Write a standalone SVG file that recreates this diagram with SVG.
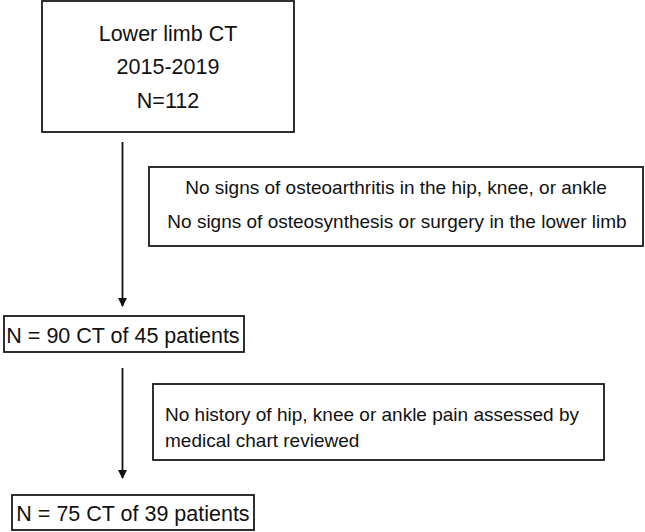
<svg xmlns="http://www.w3.org/2000/svg" width="645" height="532" viewBox="0 0 645 532">
<defs>
<style>
.box{fill:#fff;stroke:#1a1a1a;stroke-width:1.8}
.t{font-family:"Liberation Sans",Arial,sans-serif;fill:#111;text-anchor:middle}
.tl{font-family:"Liberation Sans",Arial,sans-serif;fill:#111;text-anchor:start}
.c{stroke:#111;stroke-width:1.8;fill:none}
</style>
<marker id="ah" markerWidth="10" markerHeight="10" refX="8" refY="4.5" orient="auto" markerUnits="userSpaceOnUse">
<path d="M0,0 L9,4.5 L0,9 z" fill="#111"/>
</marker>
</defs>
<rect width="645" height="532" fill="#fff"/>
<g id="connectors">
<line class="c" x1="122.5" y1="142" x2="122.5" y2="306" marker-end="url(#ah)"/>
<line class="c" x1="122.5" y1="368" x2="122.5" y2="478" marker-end="url(#ah)"/>
</g>
<g id="n1">
<rect class="box" x="42" y="1" width="252" height="131"/>
<text class="t" x="168" y="41" font-size="21.5">Lower limb CT</text>
<text class="t" x="168" y="74" font-size="21.5">2015-2019</text>
<text class="t" x="168" y="108" font-size="21.5">N=112</text>
</g>
<g id="n2">
<rect class="box" x="149" y="167" width="494" height="79"/>
<text class="t" x="396" y="194" font-size="19">No signs of osteoarthritis in the hip, knee, or ankle</text>
<text class="t" x="397" y="228" font-size="19">No signs of osteosynthesis or surgery in the lower limb</text>
</g>
<g id="n3">
<rect class="box" x="4" y="316" width="240" height="36"/>
<text class="t" x="123" y="343" font-size="21.5">N = 90 CT of 45 patients</text>
</g>
<g id="n4">
<rect class="box" x="153" y="384" width="451" height="76"/>
<text class="tl" x="165" y="421" font-size="19">No history of hip, knee or ankle pain assessed by</text>
<text class="tl" x="165" y="447" font-size="19">medical chart reviewed</text>
</g>
<g id="n5">
<rect class="box" x="12" y="495" width="242" height="35"/>
<text class="t" x="133" y="521" font-size="21.5">N = 75 CT of 39 patients</text>
</g>
</svg>
